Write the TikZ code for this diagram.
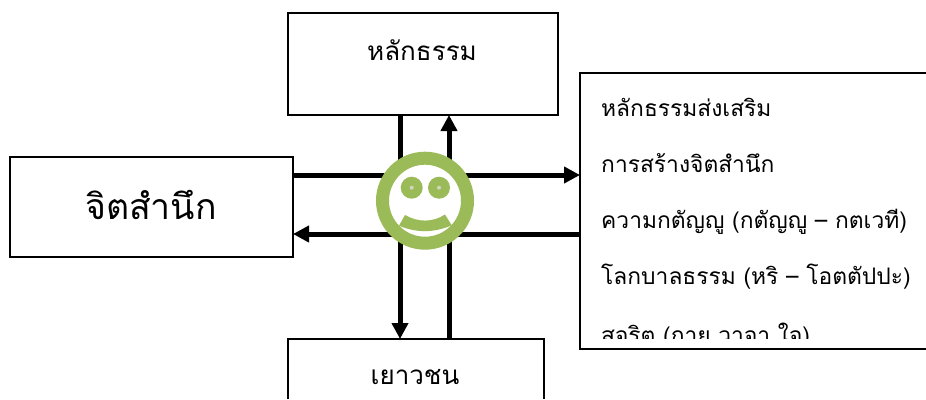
\documentclass[tikz,border=0pt]{standalone}
\usepackage{fontspec}
\newfontfamily\thaifont[Script=Thai]{Loma}
\usetikzlibrary{arrows.meta}
\definecolor{smile}{RGB}{155,187,89}
\definecolor{pupil}{RGB}{205,215,190}
\tikzset{
 box/.style={draw=black,line width=1.3pt,fill=white,inner sep=0pt},
 conn/.style={line width=5pt,-{Triangle[length=16pt,width=16pt]}},
 lab/.style={font=\thaifont\fontsize{22.8pt}{22.8pt}\selectfont,anchor=base west,inner sep=0pt},
 eye/.style={circle,fill=smile,minimum size=22pt},
 pup/.style={circle,fill=pupil,minimum size=4pt},
}
\begin{document}
\begin{tikzpicture}[x=1pt,y=-1pt,every node/.style={inner sep=0pt}]
\useasboundingbox (0,0) rectangle (926,399);
\path[fill=white] (0,0) rectangle (926,399);
\coordinate (a1s) at (400,115);
\coordinate (a1e) at (400,339);
\coordinate (a2s) at (449,339);
\coordinate (a2e) at (449,115);
\coordinate (a3s) at (293,175);
\coordinate (a3e) at (580,175);
\coordinate (a4s) at (580,234);
\coordinate (a4e) at (293,234);
\draw[conn] (a1s) -- (a1e);
\draw[conn] (a2s) -- (a2e);
\draw[conn] (a3s) -- (a3e);
\draw[conn] (a4s) -- (a4e);
\node[box,minimum width=270pt,minimum height=102pt] (top) at (423,64) {};
\node[font=\thaifont\fontsize{26pt}{26pt}\selectfont] (toplab) at (422,50) {หลักธรรม};
\node[box,minimum width=283pt,minimum height=100pt] (left) at (151.5,207) {};
\node[font=\thaifont\fontsize{35.6pt}{35.6pt}\selectfont] (leftlab) at (151,205) {จิตสำนึก};
\path[box] (288,399) -- (288,339) -- (544,339) -- (544,399);
\node[font=\thaifont\fontsize{26pt}{26pt}\selectfont] (botlab) at (415,377) {เยาวชน};
\path[draw=black,line width=1.3pt,fill=white] (926,73) -- (580,73) -- (580,349) -- (926,349);
\begin{scope}
\clip (581,74) rectangle (926,338.5);
\node[lab] (l1) at (601,116) {หลักธรรมส่งเสริม};
\node[lab] (l2) at (601,172) {การสร้างจิตสำนึก};
\node[lab] (l3) at (601,228) {ความกตัญญู (กตัญญู – กตเวที)};
\node[lab] (l4) at (601,284) {โลกบาลธรรม (หริ – โอตตัปปะ)};
\node[lab] (l5) at (601,343) {สุจริต (กาย วาจา ใจ)};
\end{scope}
\node[circle,draw=smile,line width=13pt,fill=white,minimum size=85pt] (face) at (425,200.7) {};
\node[eye] (eyeL) at (411.7,187.7) {};
\node[eye] (eyeR) at (439,187.7) {};
\node[pup] (pupL) at (411.7,187.7) {};
\node[pup] (pupR) at (439,187.7) {};
\fill[smile] (399,225.7) -- (405,215) .. controls (418,222.5) and (433,222.5) .. (445,214.5) -- (451.7,225.3) .. controls (434,233) and (416,233) .. cycle;
\end{tikzpicture}
\end{document}
